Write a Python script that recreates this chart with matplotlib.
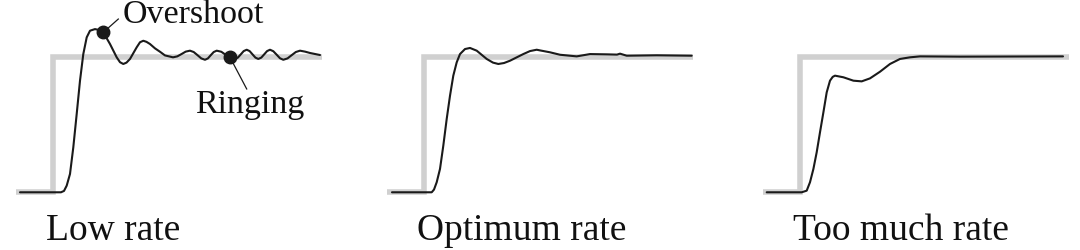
import matplotlib
matplotlib.use("Agg")
import matplotlib.pyplot as plt

# ---- data (time after step, normalized response) ----
step_t = [-0.37, 0.0, 0.0, 2.69]
step_r = [0.0, 0.0, 1.0, 1.0]

low_t = [-0.33, 0.08, 0.11, 0.137, 0.17, 0.203, 0.237, 0.27, 0.303, 0.337, 0.37, 0.42,
         0.46, 0.503, 0.57, 0.637, 0.67, 0.703, 0.735, 0.77, 0.837, 0.87, 0.903, 0.935,
         0.97, 1.02, 1.07, 1.12, 1.2, 1.243, 1.285, 1.327, 1.37, 1.407, 1.445, 1.483,
         1.52, 1.549, 1.578, 1.607, 1.637, 1.683, 1.728, 1.774, 1.82, 1.849, 1.878,
         1.907, 1.937, 1.966, 1.995, 2.024, 2.053, 2.083, 2.112, 2.141, 2.17, 2.203,
         2.237, 2.27, 2.303, 2.345, 2.387, 2.428, 2.47, 2.52, 2.57, 2.67]
low_r = [0.0, 0.0, 0.01, 0.049, 0.135, 0.331, 0.577, 0.822, 1.018, 1.141, 1.19, 1.202,
         1.195, 1.178, 1.092, 0.994, 0.958, 0.945, 0.955, 0.982, 1.068, 1.105, 1.116, 1.108,
         1.092, 1.06, 1.035, 1.008, 0.994, 1.001, 1.018, 1.036, 1.043, 1.033, 1.01, 0.986,
         0.976, 0.986, 1.01, 1.033, 1.043, 1.035, 1.012, 0.99, 0.982, 0.992, 1.016,
         1.04, 1.05, 1.04, 1.016, 0.992, 0.982, 0.992, 1.016, 1.04, 1.05, 1.039,
         1.013, 0.987, 0.976, 0.986, 1.01, 1.033, 1.043, 1.036, 1.026, 1.011]

opt_t = [-0.32, 0.077, 0.1, 0.127, 0.16, 0.193, 0.227, 0.26, 0.293, 0.327, 0.36, 0.41,
         0.46, 0.527, 0.627, 0.69, 0.743, 0.8, 0.86, 0.993, 1.06, 1.127, 1.16, 1.26,
         1.36, 1.527, 1.66, 1.827, 1.93, 1.96, 2.027, 2.327, 2.677]
opt_r = [0.0, 0.0, 0.02, 0.074, 0.172, 0.343, 0.54, 0.711, 0.859, 0.957, 1.018, 1.055,
         1.063, 1.043, 0.982, 0.955, 0.945, 0.952, 0.969, 1.018, 1.04, 1.05, 1.045, 1.031,
         1.013, 1.001, 1.018, 1.016, 1.014, 1.021, 1.006, 1.009, 1.006]

much_t = [-0.33, 0.02, 0.07, 0.103, 0.137, 0.17, 0.203, 0.237, 0.27, 0.303, 0.33, 0.353,
          0.437, 0.537, 0.62, 0.703, 0.803, 0.903, 1.003, 1.103, 1.203, 1.603, 2.633]
much_r = [0.0, 0.0, 0.012, 0.074, 0.172, 0.295, 0.442, 0.589, 0.736, 0.822, 0.85, 0.859,
          0.847, 0.822, 0.817, 0.839, 0.888, 0.945, 0.982, 0.994, 1.001, 0.999, 1.001]

panel_titles = ["Low rate", "Optimum rate", "Too much rate"]
overshoot_pt = (0.503, 1.178)
ringing_pt = (1.77, 0.994)

# ---- layout ----
W, H = 1080, 251
fig = plt.figure(figsize=(W / 100, H / 100), dpi=100)
step_px = [53, 424, 799.7]
curves = [(low_t, low_r), (opt_t, opt_r), (much_t, much_r)]

serif = ["Liberation Serif", "DejaVu Serif"]
grey = "#d0d0d0"
ink = "#1a1a1a"

axes = []
for xs, (ct, cr), title in zip(step_px, curves, panel_titles):
    ax = fig.add_axes([(xs - 45) / W, 3.4 / H, 320 / W, 244.4 / H])
    ax.set_xlim(-0.45, 2.75)
    ax.set_ylim(-0.4, 1.4)
    ax.axis("off")
    ax.plot(step_t, step_r, color=grey, lw=4.0, solid_joinstyle="miter",
            solid_capstyle="butt", zorder=1)
    ax.plot(ct, cr, color=ink, lw=1.5, solid_joinstyle="round",
            solid_capstyle="round", zorder=2)
    ax.text(-0.07, -0.344, title, fontsize=27, family=serif, va="baseline",
            ha="left", color="#111111")
    axes.append(ax)

ax = axes[0]
ax.plot([overshoot_pt[0], 0.653], [overshoot_pt[1], 1.276], color=ink, lw=0.9, zorder=3)
ax.plot(*overshoot_pt, "o", color=ink, ms=9, zorder=4)
ax.text(0.70, 1.254, "Overshoot", fontsize=24.5, family=serif, va="baseline",
        ha="left", color="#111111")
ax.plot([ringing_pt[0], 1.937], [ringing_pt[1], 0.761], color=ink, lw=0.9, zorder=3)
ax.plot(*ringing_pt, "o", color=ink, ms=9, zorder=4)
ax.text(1.42, 0.591, "Ringing", fontsize=24.5, family=serif, va="baseline",
        ha="left", color="#111111")

fig.savefig("out.png", dpi=100)
